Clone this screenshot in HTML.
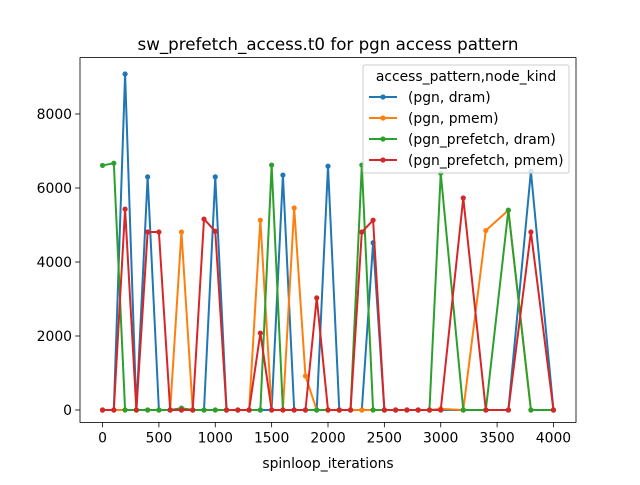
<!DOCTYPE html>
<html><head><meta charset="utf-8"><style>body{margin:0;background:#fff}svg{font-family:"DejaVu Sans","Liberation Sans",sans-serif}</style></head>
<body>
<svg id="c" width="640" height="480" viewBox="0 0 640 480"></svg>
<script>
const xs=[0,100,200,300,400,500,600,700,800,900,1000,1100,1200,1300,1400,1500,1600,1700,1800,1900,2000,2100,2200,2300,2400,2500,2600,2700,2800,2900,3000,3200,3400,3600,3800,4000];
const pgnDram=[0,0,9080,0,6300,0,0,0,0,0,6300,0,0,0,0,0,6350,0,0,0,6590,0,0,0,4520,0,0,0,0,0,0,0,0,0,6450,0];
const pgnPmem=[0,0,0,0,0,0,0,4810,0,0,0,0,0,0,5130,0,0,5460,920,0,0,0,0,0,0,0,0,0,0,0,30,0,4850,5400,0,0];
const prefDram=[6610,6670,0,0,0,0,0,50,0,0,0,0,0,0,0,6620,0,0,0,0,0,0,0,6620,0,0,0,0,0,0,6400,0,0,5400,0,0];
const prefPmem=[0,0,5430,0,4810,4810,0,0,0,5160,4830,0,0,0,2080,0,0,0,0,3030,0,0,0,4810,5130,0,0,0,0,0,0,5730,0,0,4810,0];
const seriesNames=["(pgn, dram)","(pgn, pmem)","(pgn_prefetch, dram)","(pgn_prefetch, pmem)"];
const xTicks=[0,500,1000,1500,2000,2500,3000,3500,4000];
const yTicks=[0,2000,4000,6000,8000];
const colors=["#1f77b4","#ff7f0e","#2ca02c","#d62728"];
const L=80,R=576,T=57.6,B=422.4;
const X=v=>L+(v+200)/4400*(R-L);
const Y=v=>B-(v+335)/(9524+335)*(B-T);
const svg=document.getElementById('c');const NS="http://www.w3.org/2000/svg";
function mk(t,a,p){const e=document.createElementNS(NS,t);for(const k in a)e.setAttribute(k,a[k]);(p||svg).appendChild(e);return e;}
const title=mk('text',{x:328,y:50,'text-anchor':'middle','font-size':16.7});title.textContent="sw_prefetch_access.t0 for pgn access pattern";


xTicks.forEach(v=>{const x=X(v);const t=mk('line',{x1:x,x2:x,y1:B,y2:B+4.9,stroke:'#000','stroke-width':0.8});


const l=mk('text',{x:x,y:B+20,'text-anchor':'middle','font-size':13.9});l.textContent=v;

});
yTicks.forEach(v=>{const y=Y(v);const t=mk('line',{x1:L-4.9,x2:L,y1:y,y2:y,stroke:'#000','stroke-width':0.8});


const l=mk('text',{x:L-8,y:y+5,'text-anchor':'end','font-size':13.9});l.textContent=v;

});
const xl=mk('text',{x:328,y:468,'text-anchor':'middle','font-size':13.9});xl.textContent="spinloop_iterations";


[pgnDram,pgnPmem,prefDram,prefPmem].forEach((d,i)=>{const g=mk('g',{});


const p=mk('polyline',{points:xs.map((x,j)=>X(x)+','+Y(d[j])).join(' '),fill:'none',stroke:colors[i],'stroke-width':2});
g.appendChild(p);


xs.forEach((x,j)=>{const c=mk('circle',{cx:X(x),cy:Y(d[j]),r:2.6,fill:colors[i]},g);

});});
const fr=mk('rect',{x:L,y:T,width:R-L,height:B-T,fill:'none',stroke:'#000','stroke-width':0.8});


const lg=mk('g',{});


mk('rect',{x:363,y:65,width:206,height:108,rx:2,fill:'#fff','fill-opacity':0.8,stroke:'#ccc'},lg);
const lt=mk('text',{x:466,y:81,'text-anchor':'middle','font-size':13.9},lg);lt.textContent="access_pattern,node_kind";
seriesNames.forEach((n,i)=>{const y=97+i*21;
const e=mk('g',{},lg);


mk('line',{x1:369,x2:397,y1:y,y2:y,stroke:colors[i],'stroke-width':2},e);
mk('circle',{cx:383,cy:y,r:2.6,fill:colors[i]},e);
const t=mk('text',{x:408,y:y+5,'font-size':13.9},e);t.textContent=n;});
</script>
</body></html>
